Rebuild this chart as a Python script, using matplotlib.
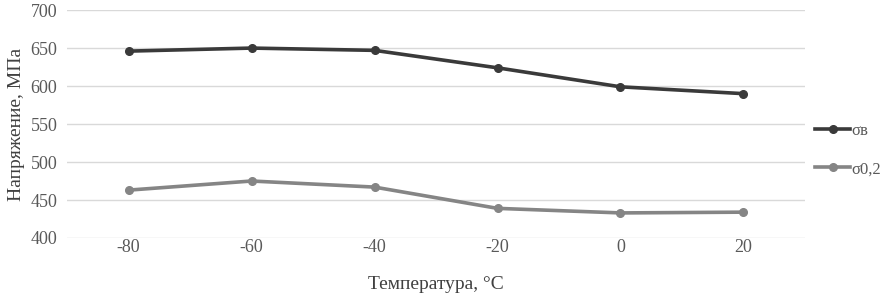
import matplotlib.pyplot as plt

# Data
temps = [-80, -60, -40, -20, 0, 20]
sigma_b = [646, 650, 647, 624, 599, 590]
sigma_02 = [463, 475, 467, 439, 433, 434]
labels = ['σв', 'σ0,2']

plt.rcParams['font.family'] = ['Liberation Serif', 'DejaVu Serif']

fig = plt.figure(figsize=(8.88, 2.97), dpi=100)
ax = fig.add_axes([0.0755, 0.1987, 0.831, 0.7673])

x = list(range(len(temps)))
ax.plot(x, sigma_b, color='#3a3a3a', lw=2.6, marker='o', ms=5.5, label=labels[0])
ax.plot(x, sigma_02, color='#858585', lw=2.6, marker='o', ms=5.5, label=labels[1])

ax.set_xlim(-0.5, len(temps) - 0.5)
ax.set_ylim(400, 700)
ax.set_yticks(range(400, 701, 50))
ax.set_xticks(x)
ax.set_xticklabels([str(t) for t in temps])
ax.tick_params(length=0, labelsize=13, labelcolor='#595959', pad=7)
ax.tick_params(axis='x', pad=1)
ax.grid(axis='y', color='#d9d9d9', lw=1)
ax.set_axisbelow(True)
for s in ax.spines.values():
    s.set_visible(False)

ax.set_xlabel('Температура, °C', fontsize=14, color='#404040', labelpad=14)
ax.set_ylabel('Напряжение, МПа', fontsize=14, color='#404040', labelpad=4)

ax.legend(loc='center left', bbox_to_anchor=(815 / 888, 1 - 150 / 297),
          bbox_transform=fig.transFigure, frameon=False, borderpad=0,
          borderaxespad=0, fontsize=12, labelcolor='#595959',
          handlelength=2.1, handletextpad=0.1, labelspacing=1.35)

fig.savefig('out.png', dpi=100)
